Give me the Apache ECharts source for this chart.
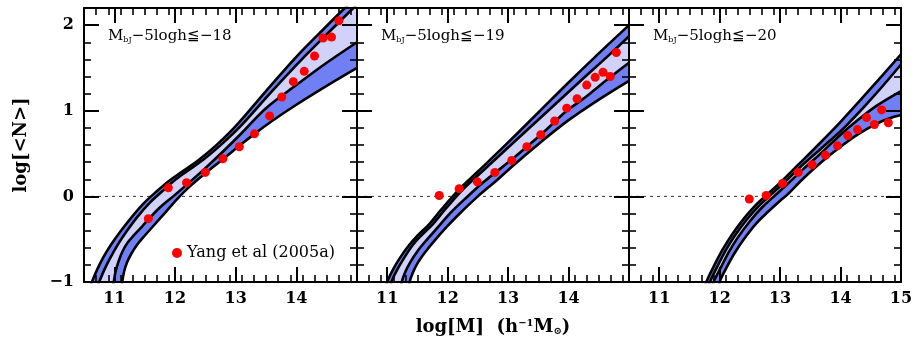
<!DOCTYPE html>
<html>
<head>
<meta charset="utf-8">
<script src="https://cdn.jsdelivr.net/npm/echarts@6.0.0/dist/echarts.min.js"></script>
<style>
html, body { margin: 0; padding: 0; background: #fff; }
#chart { width: 916px; height: 348px; }
</style>
</head>
<body>
<div id="chart"></div>
<script>
// tick values / labels
var xTickValues = [11, 12, 13, 14];
var xLabels12 = [11, 12, 13, 14];
var xLabels3 = [11, 12, 13, 14, 15];
var yTickValues = [-1, 0, 1, 2];
var panelCuts = ['18', '19', '20'];
var legendName = 'Yang et al (2005a)';

// panel 1 : Mbj-5logh <= -18
var p1OuterUp = [[10.55,-1.15],[10.63,-1.0],[10.72,-0.85],[10.82,-0.71],[10.95,-0.56],[11.1,-0.41],[11.3,-0.23],[11.5,-0.07],[11.7,0.06],[11.9,0.18],[12.1,0.28],[12.4,0.43],[12.7,0.61],[13.0,0.82],[13.5,1.23],[14.0,1.63],[14.5,1.99],[14.8,2.2],[15.0,2.33]];
var p1InnerUp = [[10.67,-1.15],[10.75,-1.0],[10.84,-0.85],[10.94,-0.71],[11.06,-0.56],[11.2,-0.41],[11.39,-0.23],[11.59,-0.07],[11.79,0.06],[11.98,0.18],[12.17,0.28],[12.47,0.43],[12.77,0.61],[13.08,0.82],[13.6,1.23],[14.13,1.63],[14.64,1.99],[14.94,2.2],[15.0,2.24]];
var p1InnerLow = [[10.96,-1.15],[10.99,-1.0],[11.02,-0.88],[11.07,-0.76],[11.13,-0.65],[11.22,-0.54],[11.34,-0.44],[11.46,-0.35],[11.56,-0.27],[11.75,-0.13],[11.97,0.0],[12.2,0.14],[12.5,0.33],[12.8,0.53],[13.1,0.74],[13.5,1.03],[14.0,1.3],[14.5,1.56],[15.0,1.8]];
var p1OuterLow = [[11.1,-1.15],[11.13,-1.0],[11.16,-0.88],[11.21,-0.77],[11.28,-0.67],[11.37,-0.57],[11.5,-0.46],[11.65,-0.34],[11.85,-0.18],[12.05,-0.02],[12.25,0.12],[12.5,0.27],[12.8,0.44],[13.06,0.59],[13.31,0.73],[13.6,0.88],[14.0,1.07],[14.5,1.29],[15.0,1.5]];
var p1Obs = [[11.56,-0.26],[11.89,0.10],[12.19,0.16],[12.50,0.28],[12.79,0.44],[13.06,0.58],[13.31,0.73],[13.56,0.94],[13.76,1.16],[13.95,1.34],[14.13,1.46],[14.30,1.64],[14.44,1.85],[14.58,1.86],[14.70,2.05]];

// panel 2 : Mbj-5logh <= -19
var p2OuterUp = [[10.96,-1.15],[11.0,-1.0],[11.1,-0.85],[11.2,-0.73],[11.35,-0.58],[11.5,-0.46],[11.7,-0.32],[11.9,-0.15],[12.19,0.08],[12.5,0.29],[13.0,0.63],[13.5,0.98],[14.0,1.33],[14.5,1.67],[15.0,2.0]];
var p2InnerUp = [[11.03,-1.15],[11.07,-1.0],[11.17,-0.85],[11.27,-0.73],[11.41,-0.58],[11.56,-0.46],[11.76,-0.32],[11.96,-0.15],[12.25,0.08],[12.57,0.29],[13.09,0.63],[13.63,0.98],[14.17,1.33],[14.7,1.67],[15.0,1.87]];
var p2InnerLow = [[11.2,-1.15],[11.24,-1.0],[11.3,-0.88],[11.38,-0.77],[11.5,-0.64],[11.65,-0.51],[11.85,-0.35],[12.05,-0.19],[12.3,-0.02],[12.6,0.17],[13.06,0.43],[13.31,0.58],[13.54,0.72],[13.77,0.87],[13.97,1.0],[14.3,1.17],[14.65,1.37],[15.0,1.56]];
var p2OuterLow = [[11.33,-1.15],[11.37,-1.0],[11.43,-0.88],[11.51,-0.77],[11.63,-0.65],[11.78,-0.52],[11.98,-0.36],[12.2,-0.2],[12.5,0.0],[12.8,0.18],[13.1,0.37],[13.5,0.61],[14.0,0.89],[14.5,1.13],[15.0,1.35]];
var p2Obs = [[11.86,0.01],[12.19,0.09],[12.49,0.17],[12.78,0.28],[13.06,0.42],[13.31,0.58],[13.54,0.72],[13.77,0.88],[13.97,1.03],[14.14,1.14],[14.30,1.30],[14.44,1.39],[14.57,1.45],[14.69,1.40],[14.79,1.68]];

// panel 3 : Mbj-5logh <= -20
var p3OuterUp = [[11.72,-1.15],[11.78,-1.0],[11.9,-0.82],[12.05,-0.62],[12.2,-0.45],[12.4,-0.26],[12.6,-0.1],[12.8,0.03],[13.0,0.16],[13.3,0.37],[13.6,0.58],[14.0,0.87],[14.5,1.26],[15.0,1.66]];
var p3InnerUp = [[11.78,-1.15],[11.84,-1.0],[11.96,-0.82],[12.1,-0.63],[12.25,-0.46],[12.45,-0.27],[12.65,-0.11],[12.85,0.02],[13.05,0.15],[13.36,0.36],[13.68,0.56],[14.1,0.83],[14.55,1.17],[15.0,1.54]];
var p3InnerLow = [[11.84,-1.15],[11.9,-1.0],[12.02,-0.83],[12.16,-0.64],[12.31,-0.47],[12.5,-0.29],[12.7,-0.13],[12.9,0.0],[13.1,0.13],[13.4,0.33],[13.7,0.52],[14.0,0.72],[14.3,0.9],[14.6,1.06],[15.0,1.23]];
var p3OuterLow = [[11.96,-1.15],[12.0,-1.0],[12.1,-0.85],[12.24,-0.67],[12.4,-0.5],[12.6,-0.32],[12.8,-0.18],[13.0,-0.05],[13.12,0.02],[13.4,0.22],[13.7,0.41],[14.0,0.58],[14.3,0.73],[14.6,0.85],[14.8,0.91],[15.0,0.95]];
var p3Obs = [[12.49,-0.03],[12.77,0.01],[13.04,0.15],[13.30,0.28],[13.53,0.37],[13.75,0.48],[13.95,0.59],[14.12,0.71],[14.28,0.78],[14.43,0.92],[14.56,0.84],[14.68,1.01],[14.79,0.86]];

var panels = [
	{up: p1OuterUp, up2: p1InnerUp, low2: p1InnerLow, low: p1OuterLow, obs: p1Obs},
	{up: p2OuterUp, up2: p2InnerUp, low2: p2InnerLow, low: p2OuterLow, obs: p2Obs},
	{up: p3OuterUp, up2: p3InnerUp, low2: p3InnerLow, low: p3OuterLow, obs: p3Obs}
];

var FONT = 'DejaVu Serif';
var DARK = '#7080f4';
var LIGHT = '#d0d2fa';
var SMOOTH = 0.35;
var gridLeft = [84, 357, 629];
var gridWidth = [273, 272, 272];

var xMinor = [], yMinor = [];
for (var i = 1; i < 23; i++) xMinor.push(+(10.5 + i * 0.2).toFixed(1));
for (i = 1; i < 16; i++) yMinor.push(+(-1 + i * 0.2).toFixed(1));

function minus(v) { return v < 0 ? '\u2212' + (-v) : '' + v; }

function xAx(g, pos, major) {
	var labels = null;
	if (major && pos === 'bottom') labels = g === 2 ? xLabels3 : xLabels12;
	var ax = {
		type: 'value', gridIndex: g, position: pos, min: 10.5, max: 15, z: 10,
		axisLine: {show: major, onZero: false, lineStyle: {color: '#000', width: 2}},
		axisTick: {show: true, inside: true, length: major ? 15 : 7, customValues: major ? xTickValues : xMinor,
			lineStyle: {color: '#000', width: major ? 2 : 1.6}},
		axisLabel: labels ? {show: true, customValues: labels, margin: 9, color: '#000',
			fontFamily: FONT, fontSize: 16, fontWeight: 'bold'} : {show: false},
		splitLine: {show: false}
	};
	if (g === 1 && major && pos === 'bottom') {
		ax.name = 'log[M]  (h{sup|\u22121}M{sub|\u2299})';
		ax.nameLocation = 'middle';
		ax.nameGap = 36;
		ax.nameTextStyle = {fontFamily: FONT, fontSize: 18, fontWeight: 'bold', color: '#000',
			rich: {
				sup: {fontFamily: FONT, fontSize: 10, fontWeight: 'bold', verticalAlign: 'top', color: '#000'},
				sub: {fontFamily: FONT, fontSize: 10, fontWeight: 'bold', verticalAlign: 'bottom', color: '#000'}
			}};
	}
	return ax;
}

function yAx(g, pos, major) {
	var ax = {
		type: 'value', gridIndex: g, position: pos, min: -1, max: 2.2, z: 10,
		axisLine: {show: major, onZero: false, lineStyle: {color: '#000', width: 2}},
		axisTick: {show: true, inside: true, length: major ? 15 : 7, customValues: major ? yTickValues : yMinor,
			lineStyle: {color: '#000', width: major ? 2 : 1.6}},
		axisLabel: (g === 0 && major && pos === 'left') ? {show: true, customValues: yTickValues, margin: 10,
			color: '#000', fontFamily: FONT, fontSize: 16, fontWeight: 'bold', formatter: minus} : {show: false},
		splitLine: {show: false}
	};
	if (g === 0 && major && pos === 'left') {
		ax.name = 'log[<N>]';
		ax.nameLocation = 'middle';
		ax.nameGap = 54;
		ax.nameRotate = 90;
		ax.nameTextStyle = {fontFamily: FONT, fontSize: 18, fontWeight: 'bold', color: '#000'};
	}
	return ax;
}

// filled band between two curves; end points doubled so the smoothing of the
// closed outline follows the open curves drawn on top
function bandSeries(g, upper, lower, color, z) {
	return {
		type: 'custom', xAxisIndex: g * 4, yAxisIndex: g * 4, clip: true, silent: true, z: z,
		data: [[12, 0]],
		renderItem: function (params, api) {
			var up = upper.map(function (p) { return api.coord(p); });
			var lo = lower.map(function (p) { return api.coord(p); }).reverse();
			var pts = [up[0]].concat(up, [up[up.length - 1], lo[0]], lo, [lo[lo.length - 1]]);
			return {type: 'polygon', shape: {points: pts, smooth: SMOOTH}, style: {fill: color}};
		}
	};
}

function curve(g, data) {
	return {
		type: 'line', xAxisIndex: g * 4, yAxisIndex: g * 4, data: data, symbol: 'none', silent: true,
		clip: true, z: 4, smooth: SMOOTH, lineStyle: {color: '#000', width: 2.6}
	};
}

var grids = [], xAxes = [], yAxes = [], series = [], graphics = [];
for (var g = 0; g < 3; g++) {
	grids.push({left: gridLeft[g], top: 8, width: gridWidth[g], height: 274, containLabel: false, outerBoundsMode: 'none'});
	xAxes.push(xAx(g, 'bottom', true), xAx(g, 'bottom', false), xAx(g, 'top', true), xAx(g, 'top', false));
	yAxes.push(yAx(g, 'left', true), yAx(g, 'left', false), yAx(g, 'right', true), yAx(g, 'right', false));

	var p = panels[g];
	series.push({
		type: 'line', xAxisIndex: g * 4, yAxisIndex: g * 4, data: [[10.5, 0], [15, 0]], symbol: 'none',
		silent: true, z: 1, lineStyle: {color: '#333', width: 1, type: [3, 4]}
	});
	series.push(bandSeries(g, p.up, p.low, DARK, 2));
	series.push(bandSeries(g, p.up2, p.low2, LIGHT, 3));
	series.push(curve(g, p.up), curve(g, p.up2), curve(g, p.low2), curve(g, p.low));
	series.push({
		name: legendName, type: 'scatter', xAxisIndex: g * 4, yAxisIndex: g * 4, data: p.obs,
		symbol: 'circle', symbolSize: 9, itemStyle: {color: '#ff0000', opacity: 1}, z: 6
	});

	graphics.push({
		type: 'text', left: gridLeft[g] + 24, top: 29, z: 20,
		style: {
			text: '{m|M}{s|bJ}{m|\u22125logh\u2266\u2212' + panelCuts[g] + '}',
			rich: {
				m: {fontFamily: FONT, fontSize: 15, fill: '#000'},
				s: {fontFamily: FONT, fontSize: 8, fill: '#000', verticalAlign: 'bottom'}
			}
		}
	});
}

var chart = echarts.init(document.getElementById('chart'));
chart.setOption({
	animation: false,
	backgroundColor: '#fff',
	grid: grids,
	xAxis: xAxes,
	yAxis: yAxes,
	legend: {
		left: 167, top: 240, z: 20, selectedMode: false, itemWidth: 10, itemHeight: 10, itemGap: 5,
		data: [{name: legendName, icon: 'circle', itemStyle: {color: '#ff0000', opacity: 1}}],
		textStyle: {fontFamily: FONT, fontSize: 16, color: '#000'}
	},
	graphic: graphics,
	series: series
});
</script>
</body>
</html>
